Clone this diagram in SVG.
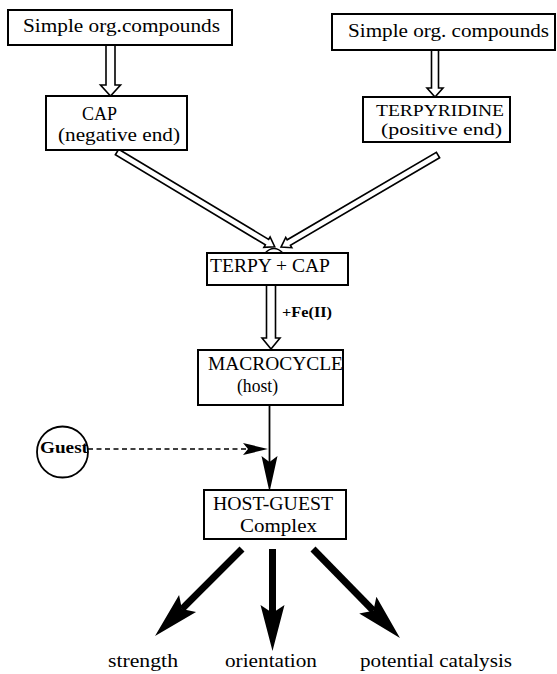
<svg xmlns="http://www.w3.org/2000/svg" width="557" height="674" viewBox="0 0 557 674">
<style>
.box{fill:#fff;stroke:#000;stroke-width:2}
.t{font-family:"Liberation Serif","Times New Roman",serif;font-size:19px;fill:#000}
.s{font-family:"Liberation Serif","Times New Roman",serif;font-size:17px;fill:#000}
.lbl{font-family:"Liberation Serif","Times New Roman",serif;font-size:18px;fill:#000}
.dbl{fill:#fff;stroke:#000;stroke-width:1.6;stroke-linejoin:miter}
.thick{stroke:#000;stroke-width:7;fill:none}
</style>
<defs>
<marker id="bigHead" markerUnits="userSpaceOnUse" viewBox="-2 -14 52 28" markerWidth="52" markerHeight="28" refX="8" refY="0" orient="auto">
<path d="M46,0 L0,-12 L8,0 L0,12 Z" fill="#000"/>
</marker>
<marker id="thinHead" markerUnits="userSpaceOnUse" viewBox="-2 -10 40 20" markerWidth="40" markerHeight="20" refX="6" refY="0" orient="auto">
<path d="M36,0 L0,-8 L6,0 L0,8 Z" fill="#000"/>
</marker>
<marker id="dashHead" markerUnits="userSpaceOnUse" viewBox="-2 -8 30 16" markerWidth="30" markerHeight="16" refX="5" refY="0" orient="auto">
<path d="M25,0 L0,-6 L5,0 L0,6 Z" fill="#000"/>
</marker>
</defs>

<g id="connectors">
<path class="dbl" d="M106,45 L106,85 L100.5,85 L110.5,96 L120.5,85 L115,85 L115,45"/>
<path class="dbl" d="M431.5,50 L431.5,88 L427,88 L435,97 L443,88 L438.5,88 L438.5,50"/>
<path class="dbl" transform="translate(117,152) rotate(31)" d="M0,-3.2 L175,-3.2 L175,-6 L184,0 L175,6 L175,3.2 L0,3.2 Z"/>
<path class="dbl" transform="translate(438,155) rotate(149.6)" d="M0,-3.2 L173,-3.2 L173,-6 L182,0 L173,6 L173,3.2 L0,3.2 Z"/>
<path d="M265,253 Q274,244 283,253" fill="none" stroke="#000" stroke-width="1.3"/>
<path class="dbl" d="M266.5,285 L266.5,338 L262,338 L271,349 L280,338 L275.5,338 L275.5,285"/>
<line x1="269.5" y1="405" x2="269.5" y2="462" stroke="#000" stroke-width="1.8" marker-end="url(#thinHead)"/>
<line x1="88" y1="449" x2="248" y2="449" stroke="#000" stroke-width="1.5" stroke-dasharray="5,3.5" marker-end="url(#dashHead)"/>
<line class="thick" x1="242" y1="549" x2="181.9" y2="609.1" marker-end="url(#bigHead)"/>
<line class="thick" x1="272.5" y1="549" x2="272.5" y2="613" marker-end="url(#bigHead)"/>
<line class="thick" x1="313" y1="549" x2="373.4" y2="610.8" marker-end="url(#bigHead)"/>
</g>

<g id="simple1">
<rect class="box" x="8" y="10" width="224" height="35"/>
<text class="t" x="23" y="32" textLength="197" lengthAdjust="spacingAndGlyphs">Simple org.compounds</text>
</g>
<g id="simple2">
<rect class="box" x="332" y="14" width="223" height="36"/>
<text class="t" x="348" y="37" textLength="201" lengthAdjust="spacingAndGlyphs">Simple org. compounds</text>
</g>
<g id="cap">
<rect class="box" x="46" y="96" width="141" height="54"/>
<text class="t" x="82" y="120" textLength="35" lengthAdjust="spacingAndGlyphs">CAP</text>
<text class="t" x="58" y="141" textLength="122" lengthAdjust="spacingAndGlyphs">(negative end)</text>
</g>
<g id="terpyridine">
<rect class="box" x="363" y="97" width="147" height="45"/>
<text class="s" x="376" y="116" textLength="128" lengthAdjust="spacingAndGlyphs">TERPYRIDINE</text>
<text class="s" x="381" y="135" textLength="121" lengthAdjust="spacingAndGlyphs">(positive end)</text>
</g>
<g id="terpycap">
<rect class="box" x="207" y="253" width="141" height="32"/>
<text class="t" x="210" y="272" textLength="120" lengthAdjust="spacingAndGlyphs">TERPY + CAP</text>
</g>
<g id="fe-label">
<text x="282" y="317" font-family="Liberation Serif, serif" font-size="15" font-weight="bold" textLength="50" lengthAdjust="spacingAndGlyphs">+Fe(II)</text>
</g>
<g id="macrocycle">
<rect class="box" x="198" y="350" width="145" height="55"/>
<text class="t" x="208" y="370" textLength="135" lengthAdjust="spacingAndGlyphs">MACROCYCLE</text>
<text class="t" x="237" y="392" textLength="41" lengthAdjust="spacingAndGlyphs">(host)</text>
</g>
<g id="guest">
<circle cx="62.5" cy="452" r="25.5" fill="#fff" stroke="#000" stroke-width="1.8"/>
<text x="40" y="453" font-family="Liberation Serif, serif" font-size="16" font-weight="bold" textLength="48" lengthAdjust="spacingAndGlyphs">Guest</text>
</g>
<g id="hostguest">
<rect class="box" x="204" y="490" width="142" height="49"/>
<text class="t" x="213" y="510" textLength="120" lengthAdjust="spacingAndGlyphs">HOST-GUEST</text>
<text class="t" x="240" y="532" textLength="77" lengthAdjust="spacingAndGlyphs">Complex</text>
</g>
<g id="strength"><text class="lbl" x="108" y="667" textLength="70" lengthAdjust="spacingAndGlyphs">strength</text></g>
<g id="orientation"><text class="lbl" x="225" y="667" textLength="92" lengthAdjust="spacingAndGlyphs">orientation</text></g>
<g id="catalysis"><text class="lbl" x="360" y="667" textLength="152" lengthAdjust="spacingAndGlyphs">potential catalysis</text></g>
</svg>
